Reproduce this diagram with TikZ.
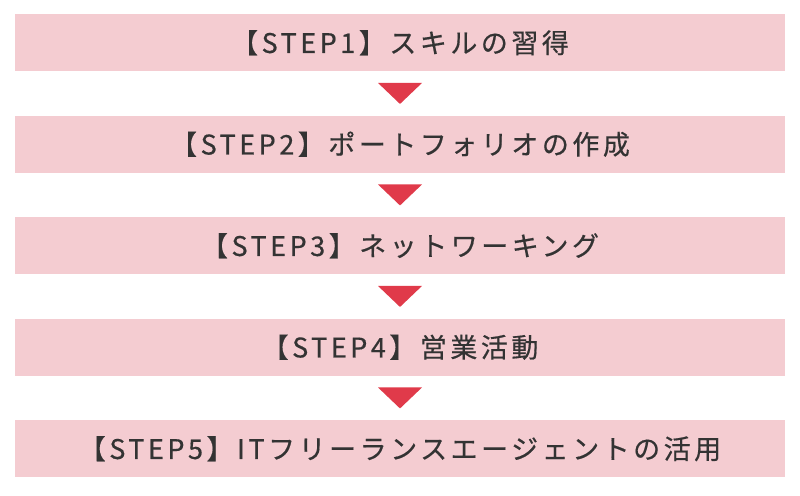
\documentclass[tikz,border=0pt]{standalone}
\usepackage{fontspec}
\usetikzlibrary{calc}
\newfontfamily\jpfont[LetterSpace=13,FakeBold=0.5]{Noto Sans CJK JP}
\definecolor{boxpink}{HTML}{F4CCD1}
\definecolor{arrred}{HTML}{E03A4A}
\definecolor{txt}{HTML}{333333}
\begin{document}
\begin{tikzpicture}[x=1pt,y=-1pt,
  stepbox/.style={fill=boxpink, draw=none, minimum width=770pt, minimum height=57pt, inner sep=0pt, anchor=north, font=\jpfont\fontsize{27}{30}\selectfont, text=txt},
  tri/.style={fill=arrred, draw=none}]
\useasboundingbox (0,0) rectangle (800,495);
\node[stepbox] (s1) at (400,14) {【STEP1】スキルの習得};
\node[stepbox] (s2) at (400,115.5) {【STEP2】ポートフォリオの作成};
\node[stepbox] (s3) at (400,217) {【STEP3】ネットワーキング};
\node[stepbox] (s4) at (400,318.5) {【STEP4】営業活動};
\node[stepbox] (s5) at (400,420) {【STEP5】ITフリーランスエージェントの活用};
\foreach \a/\b in {s1/s2,s2/s3,s3/s4,s4/s5}{
  \coordinate (m) at ($(\a.south)!0.5!(\b.north)$);
  \fill[tri] ([xshift=-22pt,yshift=10.5pt]m) -- ([xshift=22pt,yshift=10.5pt]m) -- ([yshift=-10.5pt]m) -- cycle;
}
\end{tikzpicture}
\end{document}
